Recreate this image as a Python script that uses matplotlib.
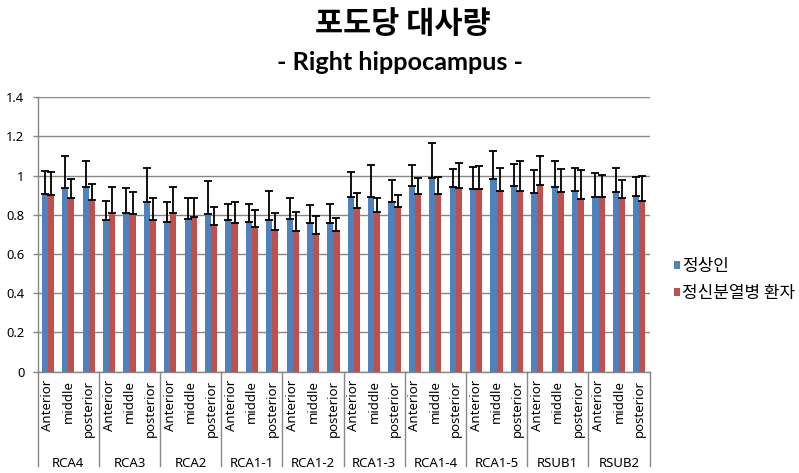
import matplotlib
matplotlib.use("Agg")
import matplotlib.pyplot as plt
import numpy as np

plt.rcParams['font.family'] = ['Noto Sans', 'Noto Sans CJK KR', 'DejaVu Sans']

groups = ["RCA4", "RCA3", "RCA2", "RCA1-1", "RCA1-2", "RCA1-3", "RCA1-4", "RCA1-5", "RSUB1", "RSUB2"]
positions = ["Anterior", "middle", "posterior"]
series_names = ["정상인", "정신분열병 환자"]

normal = [0.907, 0.937, 0.942, 0.774, 0.810, 0.866, 0.764, 0.779, 0.803, 0.774,
          0.764, 0.774, 0.781, 0.759, 0.759, 0.891, 0.891, 0.866, 0.947, 0.988,
          0.942, 0.932, 0.983, 0.947, 0.912, 0.942, 0.922, 0.891, 0.917, 0.896]
normal_err = [0.115, 0.165, 0.131, 0.099, 0.126, 0.172, 0.103, 0.109, 0.168, 0.080,
              0.090, 0.148, 0.107, 0.090, 0.095, 0.126, 0.162, 0.112, 0.106, 0.177,
              0.091, 0.111, 0.141, 0.111, 0.115, 0.131, 0.116, 0.121, 0.121, 0.096]
patient = [0.900, 0.888, 0.878, 0.810, 0.803, 0.774, 0.810, 0.789, 0.750, 0.759,
           0.738, 0.723, 0.716, 0.703, 0.718, 0.835, 0.815, 0.840, 0.907, 0.907,
           0.937, 0.932, 0.922, 0.922, 0.952, 0.917, 0.881, 0.891, 0.886, 0.871]
patient_err = [0.117, 0.097, 0.078, 0.134, 0.115, 0.111, 0.134, 0.096, 0.092, 0.108,
               0.085, 0.085, 0.097, 0.090, 0.065, 0.075, 0.070, 0.060, 0.080, 0.085,
               0.126, 0.116, 0.116, 0.151, 0.147, 0.116, 0.146, 0.111, 0.090, 0.126]
yticks = [0, 0.2, 0.4, 0.6, 0.8, 1.0, 1.2, 1.4]
ytick_labels = ["0", "0.2", "0.4", "0.6", "0.8", "1", "1.2", "1.4"]

BLUE = "#4F81BD"
RED = "#C0504D"
GRID = "#878787"

fig = plt.figure(figsize=(7.99, 4.73), dpi=100)
ax = fig.add_axes([0.0472, 0.2142, 0.7657, 0.5801])

n = len(normal)
x = np.arange(n)
w = 0.3
ekw = dict(ecolor="black", elinewidth=1.3, capsize=3.2, capthick=1.3)
ax.bar(x - w / 2, normal, w, color=BLUE, label=series_names[0], zorder=3,
       yerr=[np.zeros(n), normal_err], error_kw=ekw)
ax.bar(x + w / 2, patient, w, color=RED, label=series_names[1], zorder=3,
       yerr=[np.zeros(n), patient_err], error_kw=ekw)

ax.set_xlim(-0.5, n - 0.5)
ax.set_ylim(0, 1.4)
ax.set_yticks(yticks)
ax.set_yticklabels(ytick_labels, fontsize=9.3)
ax.yaxis.grid(True, color=GRID, linewidth=1.0, zorder=0)
ax.tick_params(axis='y', length=3.6, width=1.0, color=GRID, pad=6)
ax.set_xticks([])
for s in ["top", "right"]:
    ax.spines[s].set_visible(False)
for s in ["left", "bottom"]:
    ax.spines[s].set_color(GRID)
    ax.spines[s].set_linewidth(1.0)

trans = ax.get_xaxis_transform()
# category labels
for i in range(n):
    ax.text(x[i], -0.03, positions[i % 3], rotation=90, ha='center', va='top',
            fontsize=9.5, transform=trans, clip_on=False)
# group labels and separators
for g, name in enumerate(groups):
    ax.text(3 * g + 1, -0.333, name, ha='center', va='center', fontsize=9.5,
            transform=trans, clip_on=False)
for g in range(len(groups) + 1):
    ax.plot([3 * g - 0.5, 3 * g - 0.5], [0, -0.344], color=GRID, linewidth=1.0,
            transform=trans, clip_on=False)

fig.text(0.504, 1 - 23.5 / 473, "포도당 대사량", ha='center', va='center',
         fontsize=22, fontweight='bold', family=['Noto Sans CJK KR', 'DejaVu Sans'])
fig.text(0.501, 1 - 63 / 473, "- Right hippocampus -", ha='center', va='center',
         fontsize=18.2, fontweight='bold', family=['Lato', 'DejaVu Sans'])

leg = ax.legend(loc='center left', bbox_to_anchor=(1.021, 0.335), frameon=False,
                handlelength=0.33, handleheight=0.33,
                handletextpad=0.12, labelspacing=0.55, borderpad=0.2,
                prop={'family': ['Noto Sans CJK KR', 'DejaVu Sans'], 'size': 12.2})

fig.savefig("out.png", dpi=100)
